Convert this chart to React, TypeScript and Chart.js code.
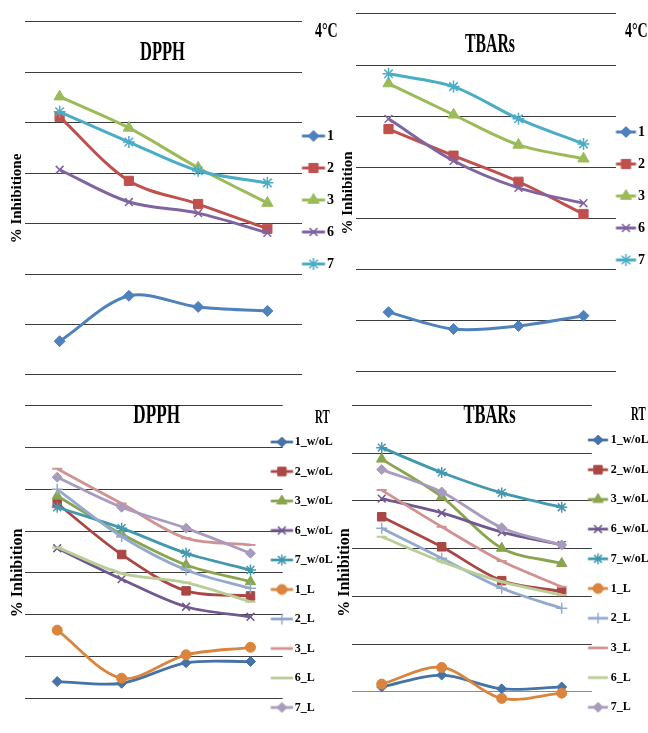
import React, { useEffect, useRef } from 'react';
import { Chart, registerables } from 'chart.js';
import { drawPoint } from 'chart.js/helpers';

Chart.register(...registerables);

// ---------------- DATA ----------------
const timePoints = ['T1', 'T2', 'T3', 'T4'];

const series4C = ['1', '2', '3', '6', '7'];
const seriesRT = ['1_w/oL', '2_w/oL', '3_w/oL', '6_w/oL', '7_w/oL', '1_L', '2_L', '3_L', '6_L', '7_L'];

// DPPH, 4 °C
const dpph4C_1 = [6.7, 15.7, 13.5, 12.7];
const dpph4C_2 = [51.2, 38.5, 33.9, 29.0];
const dpph4C_3 = [55.2, 49.0, 41.1, 34.1];
const dpph4C_6 = [40.7, 34.3, 32.1, 28.2];
const dpph4C_7 = [52.2, 46.2, 40.5, 38.1];

// TBARs, 4 °C
const tbars4C_1 = [11.7, 8.4, 9.0, 11.0];
const tbars4C_2 = [47.5, 42.3, 37.2, 30.9];
const tbars4C_3 = [56.4, 50.3, 44.4, 41.7];
const tbars4C_6 = [49.5, 41.3, 36.0, 33.0];
const tbars4C_7 = [58.3, 55.8, 49.5, 44.6];

// DPPH, RT
const dpphRT_1woL = [4.0, 3.6, 8.5, 8.8];
const dpphRT_2woL = [46.6, 34.4, 25.7, 24.5];
const dpphRT_3woL = [48.4, 39.3, 31.9, 27.9];
const dpphRT_6woL = [35.9, 28.5, 21.9, 19.5];
const dpphRT_7woL = [45.7, 40.7, 34.7, 30.7];
const dpphRT_1L = [16.3, 4.8, 10.4, 12.2];
const dpphRT_2L = [50.0, 38.7, 30.7, 26.3];
const dpphRT_3L = [54.9, 46.6, 38.3, 36.7];
const dpphRT_6L = [36.1, 29.9, 27.7, 23.1];
const dpphRT_7L = [52.9, 45.7, 40.7, 34.7];

// TBARs, RT
const tbarsRT_1woL = [1.0, 3.5, 0.6, 1.0];
const tbarsRT_2woL = [36.7, 30.4, 23.3, 21.0];
const tbarsRT_3woL = [48.8, 40.9, 30.1, 26.9];
const tbarsRT_6woL = [40.5, 37.5, 33.5, 30.8];
const tbarsRT_7woL = [51.2, 46.0, 41.7, 38.7];
const tbarsRT_1L = [1.6, 5.1, -1.4, -0.3];
const tbarsRT_2L = [34.3, 28.0, 21.7, 17.5];
const tbarsRT_3L = [42.3, 34.6, 27.4, 22.0];
const tbarsRT_6L = [32.5, 27.3, 23.1, 20.3];
const tbarsRT_7L = [46.6, 41.9, 34.4, 30.8];

// ---------------- STYLES ----------------
const FONT = "'Liberation Serif', 'Times New Roman', serif";
const W = 648;
const H = 760;
const GRID = '#3c3c3c';

const colorsTop = ['#4F81BD', '#C0504D', '#9BBB59', '#8064A2', '#4BACC6'];
const colorsBottom = ['#4572A7', '#AA4643', '#89A54E', '#71588F', '#4198AF', '#DB843D', '#93A9CF', '#D19392', '#B9CD96', '#A99BBD'];

type Marker = { style: string; r: number; bw: number };
const markersTop: Marker[] = [
  { style: 'rectRot', r: 5.5, bw: 1 },
  { style: 'rect', r: 6.5, bw: 1 },
  { style: 'triangle', r: 6.5, bw: 1 },
  { style: 'crossRot', r: 5.5, bw: 1.5 },
  { style: 'star', r: 6, bw: 1.5 },
];
const markersBottom: Marker[] = [
  { style: 'rectRot', r: 5, bw: 1 },
  { style: 'rect', r: 6, bw: 1 },
  { style: 'triangle', r: 6, bw: 1 },
  { style: 'crossRot', r: 5.5, bw: 1.5 },
  { style: 'star', r: 5.5, bw: 1.5 },
  { style: 'circle', r: 5, bw: 1 },
  { style: 'cross', r: 5.5, bw: 1.5 },
  { style: 'line', r: 5, bw: 2 },
  { style: 'line', r: 5, bw: 2 },
  { style: 'rectRot', r: 5, bw: 1 },
];

type TextItem = { text: string; x: number; y: number; size: number; sx: number; align: CanvasTextAlign };

type Panel = {
  names: string[];
  values: number[][];
  colors: string[];
  markers: Marker[];
  lineWidth: number;
  yMin: number;
  yMax: number;
  zeroColor: string;
  area: { l: number; r: number; t: number; b: number };
  yTitle: string;
  yTitleX: number;
  yTitleSize: number;
  lg: { p: number; fs: number; s: number; m0: number; x1: number; x2: number };
  texts: TextItem[];
};

const panels: Panel[] = [
  {
    names: series4C,
    values: [dpph4C_1, dpph4C_2, dpph4C_3, dpph4C_6, dpph4C_7],
    colors: colorsTop,
    markers: markersTop,
    lineWidth: 3,
    yMin: 0,
    yMax: 70,
    zeroColor: GRID,
    area: { l: 25, r: 302, t: 22, b: 375 },
    yTitle: '% Inhibitione',
    yTitleX: 17,
    yTitleSize: 15,
    lg: { p: 17, fs: 14, s: 32, m0: 136, x1: 302, x2: 325 },
    texts: [
      { text: 'DPPH', x: 162.5, y: 60, size: 27, sx: 0.61, align: 'center' },
      { text: '4°C', x: 315, y: 37, size: 20, sx: 0.7, align: 'left' },
    ],
  },
  {
    names: series4C,
    values: [tbars4C_1, tbars4C_2, tbars4C_3, tbars4C_6, tbars4C_7],
    colors: colorsTop,
    markers: markersTop,
    lineWidth: 3,
    yMin: 0,
    yMax: 70,
    zeroColor: GRID,
    area: { l: 356, r: 616, t: 14, b: 372 },
    yTitle: '% Inhibition',
    yTitleX: 348,
    yTitleSize: 15,
    lg: { p: 14, fs: 14, s: 32, m0: 132, x1: 616, x2: 636 },
    texts: [
      { text: 'TBARs', x: 490, y: 52, size: 27, sx: 0.585, align: 'center' },
      { text: '4°C', x: 625, y: 37, size: 20, sx: 0.7, align: 'left' },
    ],
  },
  {
    names: seriesRT,
    values: [dpphRT_1woL, dpphRT_2woL, dpphRT_3woL, dpphRT_6woL, dpphRT_7woL, dpphRT_1L, dpphRT_2L, dpphRT_3L, dpphRT_6L, dpphRT_7L],
    colors: colorsBottom,
    markers: markersBottom,
    lineWidth: 2.8,
    yMin: -10,
    yMax: 70,
    zeroColor: GRID,
    area: { l: 25, r: 282.7, t: 405.7, b: 740.1 },
    yTitle: '% Inhibition',
    yTitleX: 17.5,
    yTitleSize: 16,
    lg: { p: 5, fs: 12, s: 29.5, m0: 442, x1: 270.7, x2: 293 },
    texts: [
      { text: 'DPPH', x: 156.7, y: 423, size: 27, sx: 0.635, align: 'center' },
      { text: 'RT', x: 315, y: 423, size: 18, sx: 0.6, align: 'left' },
    ],
  },
  {
    names: seriesRT,
    values: [tbarsRT_1woL, tbarsRT_2woL, tbarsRT_3woL, tbarsRT_6woL, tbarsRT_7woL, tbarsRT_1L, tbarsRT_2L, tbarsRT_3L, tbarsRT_6L, tbarsRT_7L],
    colors: colorsBottom,
    markers: markersBottom,
    lineWidth: 2.8,
    yMin: -10,
    yMax: 60,
    zeroColor: '#8c8c8c',
    area: { l: 351.7, r: 591.7, t: 405.7, b: 739.4 },
    yTitle: '% Inhibition',
    yTitleX: 344.5,
    yTitleSize: 16,
    lg: { p: 12, fs: 12, s: 29.7, m0: 440, x1: 588, x2: 608 },
    texts: [
      { text: 'TBARs', x: 489.5, y: 423, size: 27, sx: 0.61, align: 'center' },
      { text: 'RT', x: 631, y: 420, size: 18, sx: 0.6, align: 'left' },
    ],
  },
];

// legend symbol: line with marker, drawn into a small canvas
function legendImage(color: string, m: Marker, a: number, c: number, lw: number) {
  const half = Math.ceil(Math.max(Math.abs(a), Math.abs(c)) + 10);
  const cv = document.createElement('canvas');
  cv.width = half * 2;
  cv.height = 24;
  const ctx = cv.getContext('2d')!;
  ctx.strokeStyle = color;
  ctx.lineWidth = lw;
  ctx.beginPath();
  ctx.moveTo(half + a, 12);
  ctx.lineTo(half + c, 12);
  ctx.stroke();
  ctx.fillStyle = color;
  ctx.strokeStyle = color;
  ctx.lineWidth = m.bw;
  drawPoint(ctx, { pointStyle: m.style, radius: m.r, rotation: 0, borderWidth: m.bw } as any, half + (a + c) / 2, 12);
  return cv;
}

// the legend box is kept narrow for layout; let its content draw past it
const unclippedLegend = {
  id: 'unclippedLegend',
  beforeDraw(chart: any) {
    const lg = chart.legend;
    if (lg && !lg.__noClip) {
      lg.__noClip = true;
      lg.draw = function () {
        if (this.options.display) this._draw();
      };
    }
  },
};

function buildConfig(P: Panel): any {
  const PL = Math.max(0, P.area.l - 30);
  const WY = P.area.l - PL;
  const lh = P.yTitleSize * 1.2;
  const titlePad = P.yTitleX - PL - lh / 2;
  const PR = W - P.area.r - 10;
  const PT = P.area.t;
  const n = P.names.length;
  const colH = n * P.lg.s;
  const LB = 2 * (P.lg.m0 - P.lg.fs / 2) - PT - P.lg.p + colH;
  const PB = H - LB;
  const HX = LB - P.area.b;
  const cx = P.area.r + P.lg.p + 0.5;
  const images = P.names.map((_, i) => legendImage(P.colors[i], P.markers[i], P.lg.x1 - cx, P.lg.x2 - cx, P.lineWidth));

  const textPlugin = {
    id: 'panelText',
    afterDraw(chart: any) {
      const ctx = chart.ctx;
      for (const t of P.texts) {
        ctx.save();
        ctx.font = `bold ${t.size}px ${FONT}`;
        ctx.fillStyle = '#000';
        ctx.textBaseline = 'alphabetic';
        ctx.textAlign = t.align;
        ctx.translate(t.x, t.y);
        ctx.scale(t.sx, 1);
        ctx.fillText(t.text, 0, 0);
        ctx.restore();
      }
    },
  };

  return {
    type: 'line',
    data: {
      labels: timePoints,
      datasets: P.names.map((name, i) => ({
        label: name,
        data: P.values[i],
        borderColor: P.colors[i],
        backgroundColor: P.colors[i],
        borderWidth: P.lineWidth,
        pointStyle: P.markers[i].style,
        pointRadius: P.markers[i].r,
        pointBorderWidth: P.markers[i].bw,
        pointBackgroundColor: P.colors[i],
        pointBorderColor: P.colors[i],
        tension: 0.32,
        fill: false,
        order: n - i,
      })),
    },
    options: {
      responsive: false,
      maintainAspectRatio: false,
      animation: false,
      events: [],
      layout: { autoPadding: false, padding: { left: PL, right: PR, top: PT, bottom: PB } },
      scales: {
        x: {
          type: 'category',
          offset: true,
          grid: { display: false },
          border: { display: false },
          ticks: { display: false },
          afterFit: (s: any) => { s.height = HX; },
        },
        y: {
          min: P.yMin,
          max: P.yMax,
          grid: {
            color: (c: any) => (c.tick && c.tick.value === 0 ? P.zeroColor : GRID),
            lineWidth: 1.1,
            drawTicks: false,
          },
          border: { display: false },
          ticks: { display: false, stepSize: 10 },
          title: {
            display: true,
            text: P.yTitle,
            color: '#000',
            font: { family: FONT, size: P.yTitleSize, weight: 'bold' },
            padding: { top: titlePad, bottom: 0 },
          },
          afterFit: (s: any) => { s.width = WY; },
        },
      },
      plugins: {
        title: { display: false },
        tooltip: { enabled: false },
        legend: {
          display: true,
          position: 'right',
          align: 'center',
          fullSize: true,
          maxWidth: 10,
          labels: {
            usePointStyle: true,
            pointStyleWidth: 1,
            boxHeight: P.lg.fs,
            padding: P.lg.p,
            color: '#000',
            font: { family: FONT, size: P.lg.fs, weight: 'bold', lineHeight: `${(P.lg.s - P.lg.p).toFixed(2)}px` },
            generateLabels: () =>
              P.names.map((name, i) => ({
                text: [name],
                pointStyle: images[i],
                fillStyle: P.colors[i],
                strokeStyle: P.colors[i],
                lineWidth: 0,
                hidden: false,
                datasetIndex: i,
                fontColor: '#000',
              })),
          },
        },
      },
    },
    plugins: [unclippedLegend, textPlugin],
  };
}

function PanelChart({ panel }: { panel: Panel }) {
  const ref = useRef<HTMLCanvasElement>(null);
  useEffect(() => {
    const chart = new Chart(ref.current as HTMLCanvasElement, buildConfig(panel));
    return () => chart.destroy();
  }, [panel]);
  return (
    <canvas
      ref={ref}
      width={W}
      height={H}
      style={{ position: 'absolute', left: 0, top: 0, width: W, height: H }}
    />
  );
}

export default function App() {
  return (
    <div
      style={{
        position: 'fixed',
        left: 0,
        top: 0,
        width: 648,
        height: 733,
        overflow: 'hidden',
        background: '#fff',
      }}
    >
      {panels.map((p, i) => (
        <PanelChart key={i} panel={p} />
      ))}
    </div>
  );
}
